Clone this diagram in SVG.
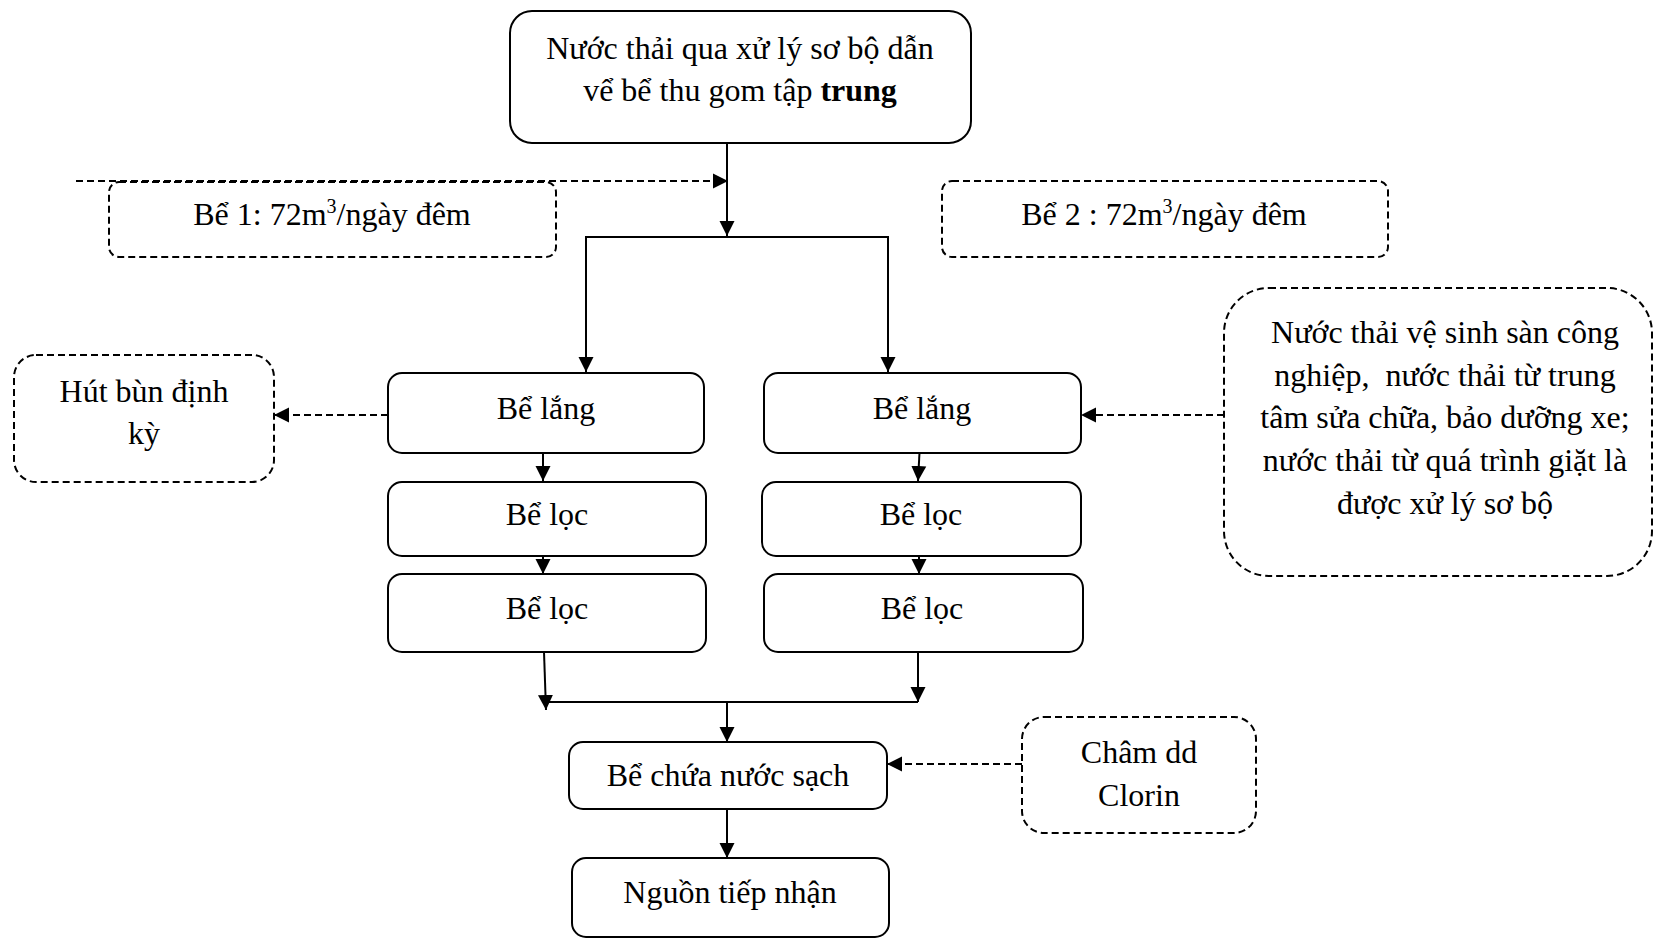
<svg xmlns="http://www.w3.org/2000/svg" width="1654" height="939" viewBox="0 0 1654 939">
<defs>
<style>
.box{fill:#fff;stroke:#000;stroke-width:2}
.dbox{fill:#fff;stroke:#000;stroke-width:2;stroke-dasharray:7 4}
.ln{fill:none;stroke:#000;stroke-width:2}
.dl{fill:none;stroke:#000;stroke-width:2;stroke-dasharray:7 4}
text{font-family:"Liberation Serif","Times New Roman",serif;font-size:32px;fill:#000;text-anchor:middle}
</style>
<marker id="ah" markerUnits="userSpaceOnUse" markerWidth="16" markerHeight="16" refX="15" refY="7.5" orient="auto" viewBox="0 0 16 15">
<path d="M0,0 L15,7.5 L0,15 z" fill="#000"/>
</marker>
</defs>
<rect width="1654" height="939" fill="#fff"/>

<g id="connectors">
<path class="ln" d="M727,143 L727,236" marker-end="url(#ah)"/>
<path class="ln" d="M727,237 L586,237 L586,372" marker-end="url(#ah)"/>
<path class="ln" d="M727,237 L888,237 L888,372" marker-end="url(#ah)"/>
<path class="ln" d="M543,453 L543,481" marker-end="url(#ah)"/>
<path class="ln" d="M543,556 L543,574" marker-end="url(#ah)"/>
<path class="ln" d="M920,443 L918,481" marker-end="url(#ah)"/>
<path class="ln" d="M919,556 L919,574" marker-end="url(#ah)"/>
<path class="ln" d="M544,652 L546,710" marker-end="url(#ah)"/>
<path class="ln" d="M918,652 L918,702" marker-end="url(#ah)"/>
<path class="ln" d="M546,702 L918,702"/>
<path class="ln" d="M727,702 L727,742" marker-end="url(#ah)"/>
<path class="ln" d="M727,809 L727,858" marker-end="url(#ah)"/>
<path class="dl" d="M76,181 L728,181" marker-end="url(#ah)"/>
<path class="dl" d="M388,415 L274,415" marker-end="url(#ah)"/>
<path class="dl" d="M1224,415 L1081,415" marker-end="url(#ah)"/>
<path class="dl" d="M1022,764 L887,764" marker-end="url(#ah)"/>
</g>

<g id="top">
<rect class="box" x="510" y="11" width="461" height="132" rx="22"/>
<text x="740" y="59">Nước thải qua xử lý sơ bộ dẫn</text>
<text x="740" y="101">vể bể thu gom tập <tspan font-weight="bold">trung</tspan></text>
</g>

<g id="be1">
<rect class="dbox" x="109" y="182" width="447" height="75" rx="10"/>
<text x="332" y="225">Bể 1: 72m<tspan font-size="20" dy="-12">3</tspan><tspan dy="12">/ngày đêm</tspan></text>
</g>

<g id="be2">
<rect class="dbox" x="942" y="181" width="446" height="76" rx="10"/>
<text x="1164" y="225">Bể 2 : 72m<tspan font-size="20" dy="-12">3</tspan><tspan dy="12">/ngày đêm</tspan></text>
</g>

<g id="hutbun">
<rect class="dbox" x="14" y="355" width="260" height="127" rx="22"/>
<text x="144" y="402">Hút bùn định</text>
<text x="144" y="444">kỳ</text>
</g>

<g id="left-lang">
<rect class="box" x="388" y="373" width="316" height="80" rx="14"/>
<text x="546" y="419">Bể lắng</text>
</g>
<g id="left-loc1">
<rect class="box" x="388" y="482" width="318" height="74" rx="14"/>
<text x="547" y="525">Bể lọc</text>
</g>
<g id="left-loc2">
<rect class="box" x="388" y="574" width="318" height="78" rx="14"/>
<text x="547" y="619">Bể lọc</text>
</g>

<g id="right-lang">
<rect class="box" x="764" y="373" width="317" height="80" rx="14"/>
<text x="922" y="419">Bể lắng</text>
</g>
<g id="right-loc1">
<rect class="box" x="762" y="482" width="319" height="74" rx="14"/>
<text x="921" y="525">Bể lọc</text>
</g>
<g id="right-loc2">
<rect class="box" x="764" y="574" width="319" height="78" rx="14"/>
<text x="922" y="619">Bể lọc</text>
</g>

<g id="source">
<rect class="dbox" x="1224" y="288" width="428" height="288" rx="45"/>
<text x="1445" y="343">Nước thải vệ sinh sàn công</text>
<text x="1445" y="386" xml:space="preserve">nghiệp,  nước thải từ trung</text>
<text x="1445" y="428">tâm sửa chữa, bảo dưỡng xe;</text>
<text x="1445" y="471">nước thải từ quá trình giặt là</text>
<text x="1445" y="514">được xử lý sơ bộ</text>
</g>

<g id="bechua">
<rect class="box" x="569" y="742" width="318" height="67" rx="14"/>
<text x="728" y="786">Bể chứa nước sạch</text>
</g>

<g id="nguon">
<rect class="box" x="572" y="858" width="317" height="79" rx="14"/>
<text x="730" y="903">Nguồn tiếp nhận</text>
</g>

<g id="cham">
<rect class="dbox" x="1022" y="717" width="234" height="116" rx="22"/>
<text x="1139" y="763">Châm dd</text>
<text x="1139" y="806">Clorin</text>
</g>
</svg>
